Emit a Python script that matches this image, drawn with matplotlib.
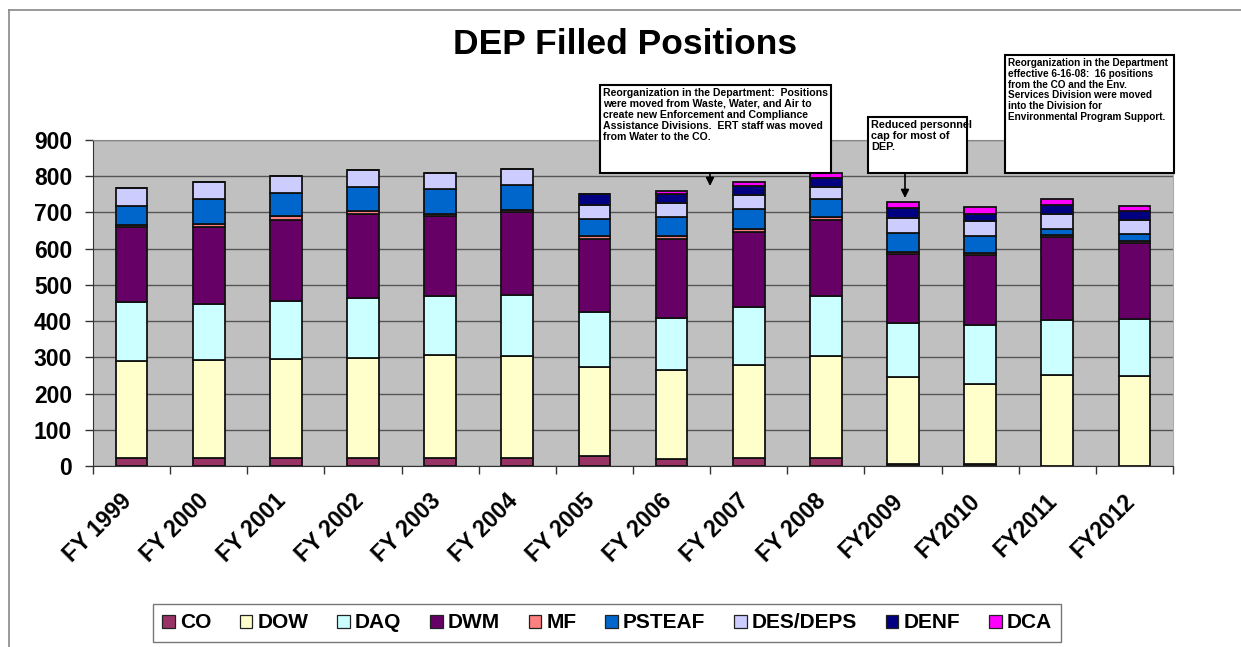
import matplotlib
matplotlib.use("Agg")
import matplotlib.pyplot as plt
import matplotlib.transforms as mtransforms
from matplotlib.patches import Rectangle, FancyArrowPatch
from matplotlib.lines import Line2D
import numpy as np

plt.rcParams['font.family'] = ['Liberation Sans', 'DejaVu Sans']
plt.rcParams['font.weight'] = 'bold'

years = ["FY 1999", "FY 2000", "FY 2001", "FY 2002", "FY 2003", "FY 2004", "FY 2005",
         "FY 2006", "FY 2007", "FY 2008", "FY2009", "FY2010", "FY2011", "FY2012"]
CO     = [22, 22, 22, 22, 22, 22, 27, 20, 23, 23, 6, 6, 0, 0]
DOW    = [268, 270, 274, 277, 285, 282, 245, 244, 255, 280, 240, 220, 252, 248]
DAQ    = [162, 154, 160, 164, 162, 169, 152, 145, 161, 167, 150, 164, 152, 159]
DWM    = [208, 214, 224, 234, 222, 227, 204, 219, 207, 210, 188, 192, 227, 209]
MF     = [6, 9, 9, 8, 6, 8, 6, 6, 9, 8, 7, 6, 6, 6]
PSTEAF = [52, 68, 66, 66, 69, 69, 49, 54, 54, 50, 53, 48, 18, 18]
DES    = [50, 47, 46, 46, 43, 42, 37, 39, 39, 31, 42, 40, 40, 40]
DENF   = [0, 0, 0, 0, 0, 0, 30, 25, 24, 27, 27, 21, 25, 24]
DCA    = [0, 0, 0, 0, 0, 0, 0, 7, 11, 13, 16, 17, 16, 13]

series_names = ["CO", "DOW", "DAQ", "DWM", "MF", "PSTEAF", "DES/DEPS", "DENF", "DCA"]
series_vals = [CO, DOW, DAQ, DWM, MF, PSTEAF, DES, DENF, DCA]
colors = ["#993366", "#FFFFCC", "#CCFFFF", "#660066", "#FF8080", "#0066CC",
          "#CCCCFF", "#000080", "#FF00FF"]

W, H = 1241, 647
fig = plt.figure(figsize=(W / 100, H / 100), dpi=100)
fig.patch.set_facecolor("white")

def fx(px):
    return px / W

def fy(py):
    return 1 - py / H

ax = fig.add_axes([fx(93), fy(466), fx(1173) - fx(93), fy(140) - fy(466)])
ax.set_facecolor("#C0C0C0")

x = np.arange(len(years))
bottom = np.zeros(len(years))
handles = []
for name, vals, c in zip(series_names, series_vals, colors):
    v = np.array(vals, dtype=float)
    ax.bar(x, v, bottom=bottom, width=0.41, color=c, edgecolor="#111111",
           linewidth=1.3, zorder=3)
    bottom += v
    handles.append(Rectangle((0, 0), 1, 1, facecolor=c, edgecolor="#222222", linewidth=0.9))

ax.set_xlim(-0.5, len(years) - 0.5)
ax.set_ylim(0, 900)
ax.set_yticks(np.arange(0, 901, 100))
ax.yaxis.grid(True, color="#555555", linewidth=1.0, zorder=0)
ax.set_axisbelow(True)

ax.set_xticks(x)
ax.set_xticklabels(years, rotation=45, ha="right", fontsize=16.5, fontweight="bold")
ax.set_xticks(np.arange(-0.5, len(years), 1), minor=True)
ax.tick_params(axis="x", which="major", length=0, pad=17)
ax.tick_params(axis="x", which="minor", length=6, width=1, color="#333333", direction="out")
ax.tick_params(axis="y", length=6, width=1, color="#333333", labelsize=16.5, pad=9)
for lab in ax.get_yticklabels():
    lab.set_fontweight("bold")
offset = mtransforms.ScaledTranslation(5 / 100, 0, fig.dpi_scale_trans)
for lab in ax.get_xticklabels():
    lab.set_transform(lab.get_transform() + offset)

ax.spines["left"].set_color("#333333")
ax.spines["bottom"].set_color("#333333")
ax.spines["top"].set_color("#888888")
ax.spines["right"].set_color("#AAAAAA")

# outer frame
fig.add_artist(Line2D([fx(9), fx(9)], [fy(10), 0], color="#888888", linewidth=1.2))
fig.add_artist(Line2D([fx(9), 1], [fy(10), fy(10)], color="#888888", linewidth=1.2))

fig.text(fx(625), fy(45), "DEP Filled Positions", ha="center", va="center",
         fontsize=25.5, fontweight="bold")

narrow = ['Liberation Sans Narrow', 'Liberation Sans', 'DejaVu Sans']

def note_box(x0, y0, x1, y1, text, fs=7.6, ls=1.12):
    fig.add_artist(Rectangle((fx(x0), fy(y1)), fx(x1) - fx(x0), fy(y0) - fy(y1),
                             transform=fig.transFigure, facecolor="white",
                             edgecolor="black", linewidth=1.5, zorder=5))
    t = fig.text(fx(x0 + 3), fy(y0 + 3), text, ha="left", va="top", fontsize=fs,
                 fontweight="bold", family=narrow, linespacing=ls, zorder=6)
    return t

note_box(600, 85, 831, 173,
         "Reorganization in the Department:  Positions\n"
         "were moved from Waste, Water, and Air to\n"
         "create new Enforcement and Compliance\n"
         "Assistance Divisions.  ERT staff was moved\n"
         "from Water to the CO.")
note_box(868, 117, 967, 173, "Reduced personnel\ncap for most of\nDEP.", fs=7.8)
note_box(1005, 55, 1174, 173,
         "Reorganization in the Department\n"
         "effective 6-16-08:  16 positions\n"
         "from the CO and the Env.\n"
         "Services Division were moved\n"
         "into the Division for\n"
         "Environmental Program Support.", fs=7.2, ls=1.1)

for (xa, y0, y1) in [(710, 173, 186), (905, 173, 198)]:
    fig.add_artist(FancyArrowPatch((fx(xa), fy(y0)), (fx(xa), fy(y1)),
                                   transform=fig.transFigure, arrowstyle="-|>",
                                   mutation_scale=12, color="black", linewidth=1.2,
                                   shrinkA=0, shrinkB=0, zorder=6))

leg = fig.legend(handles, series_names, loc="center", ncol=9,
                 bbox_to_anchor=(fx(607), fy(623)), frameon=True, fancybox=False,
                 edgecolor="#555555", fontsize=15, handlelength=0.6, handleheight=0.6,
                 handletextpad=0.25, columnspacing=1.38, borderpad=0.45)
leg.get_frame().set_linewidth(1.0)
for t in leg.get_texts():
    t.set_fontweight("bold")

fig.savefig("out.png", dpi=100)
